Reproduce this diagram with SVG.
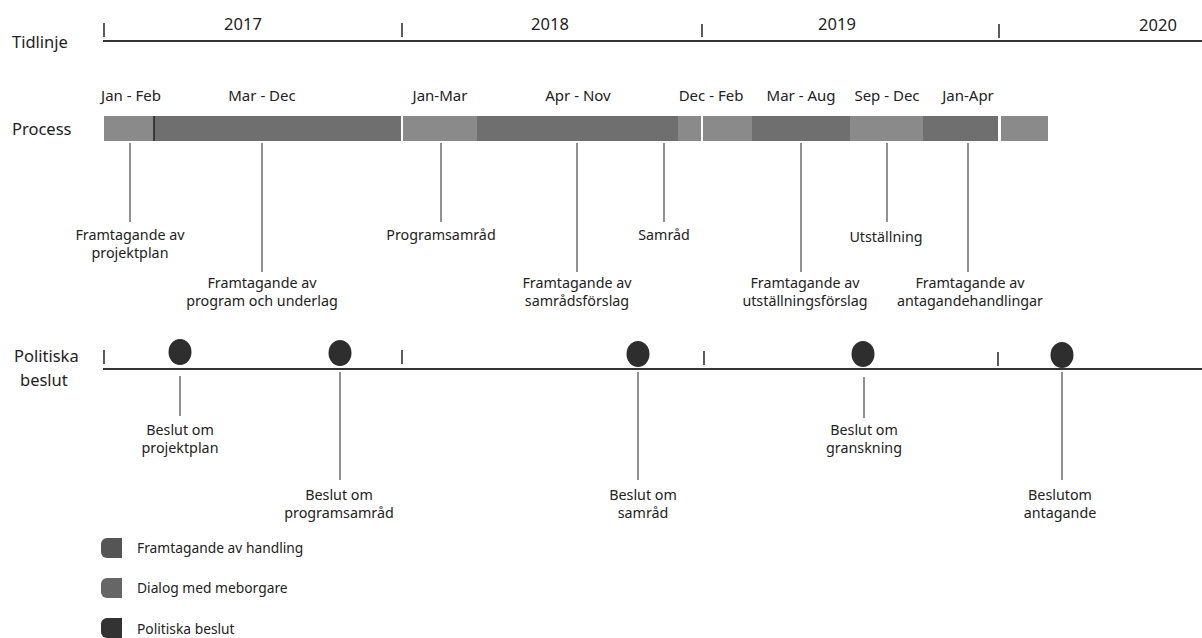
<svg xmlns="http://www.w3.org/2000/svg" width="1202" height="638" viewBox="0 0 1202 638">
<style>
text{font-family:"Noto Sans","Open Sans",sans-serif;fill:#222;}
.lab{font-size:16.5px;}
.yr{font-size:16.5px;text-anchor:middle;}
.mo{font-size:15px;text-anchor:middle;}
.t{font-size:14.3px;text-anchor:middle;}
.lg{font-size:13.8px;}
.axis{stroke:#333;stroke-width:2;fill:none;}
.tick{stroke:#333;stroke-width:1.6;}
.con{stroke:#555;stroke-width:1.3;fill:none;}
.fa{fill:#6f6f6f;}
.di{fill:#8a8a8a;}
.dot{fill:#2e2e2e;}
</style>
<rect width="1202" height="638" fill="#fff"/>
<g id="tidlinje">
<text class="lab" x="12" y="48">Tidlinje</text>
<line class="axis" x1="103" y1="41" x2="1202" y2="41"/>
<line class="tick" x1="104" y1="23" x2="104" y2="37"/>
<line class="tick" x1="402" y1="23" x2="402" y2="37"/>
<line class="tick" x1="702" y1="24" x2="702" y2="37"/>
<line class="tick" x1="999" y1="24" x2="999" y2="38"/>
<text class="yr" x="243" y="30">2017</text>
<text class="yr" x="550" y="30">2018</text>
<text class="yr" x="837" y="30">2019</text>
<text class="yr" x="1158" y="31">2020</text>
</g>
<g id="process">
<text class="lab" x="12" y="135">Process</text>
<text class="mo" x="131" y="101">Jan - Feb</text>
<text class="mo" x="262" y="101">Mar - Dec</text>
<text class="mo" x="440" y="101">Jan-Mar</text>
<text class="mo" x="578" y="101">Apr - Nov</text>
<text class="mo" x="711" y="101">Dec - Feb</text>
<text class="mo" x="801" y="101">Mar - Aug</text>
<text class="mo" x="887" y="101">Sep - Dec</text>
<text class="mo" x="968" y="101">Jan-Apr</text>
<rect class="di" x="104" y="116" width="50" height="25"/>
<rect class="fa" x="154" y="116" width="247" height="25"/>
<line x1="154" y1="116" x2="154" y2="141" stroke="#222" stroke-width="1.5"/>
<rect class="di" x="403" y="116" width="74" height="25"/>
<rect class="fa" x="477" y="116" width="201" height="25"/>
<rect class="di" x="678" y="116" width="23" height="25"/>
<rect class="di" x="703" y="116" width="49" height="25"/>
<rect class="fa" x="752" y="116" width="98" height="25"/>
<rect class="di" x="850" y="116" width="73" height="25"/>
<rect class="fa" x="923" y="116" width="75" height="25"/>
<rect class="di" x="1001" y="116" width="47" height="25"/>
</g>
<g id="politiska">
<text class="lab" x="14" y="362">Politiska</text>
<text class="lab" x="20" y="386">beslut</text>
<line class="axis" x1="103" y1="369" x2="1202" y2="369"/>
<line class="tick" x1="104" y1="350" x2="104" y2="364"/>
<line class="tick" x1="402" y1="350" x2="402" y2="364"/>
<line class="tick" x1="704" y1="351" x2="704" y2="365"/>
<line class="tick" x1="998" y1="352" x2="998" y2="366"/>
<ellipse class="dot" cx="180" cy="352" rx="11.5" ry="13"/>
<ellipse class="dot" cx="340" cy="353" rx="11.5" ry="13"/>
<ellipse class="dot" cx="638" cy="354" rx="11.5" ry="13"/>
<ellipse class="dot" cx="863" cy="354" rx="11.5" ry="13"/>
<ellipse class="dot" cx="1062" cy="355" rx="11.5" ry="13"/>
</g>
<g id="connectors">
<line class="con" x1="130" y1="143" x2="130" y2="222"/>
<line class="con" x1="262" y1="143" x2="262" y2="272"/>
<line class="con" x1="441" y1="143" x2="441" y2="222"/>
<line class="con" x1="577" y1="143" x2="577" y2="272"/>
<line class="con" x1="664" y1="143" x2="664" y2="222"/>
<line class="con" x1="801" y1="143" x2="801" y2="272"/>
<line class="con" x1="887" y1="143" x2="887" y2="222"/>
<line class="con" x1="968" y1="143" x2="968" y2="272"/>
<line class="con" x1="180" y1="376" x2="180" y2="416"/>
<line class="con" x1="340" y1="372" x2="340" y2="480"/>
<line class="con" x1="638" y1="372" x2="638" y2="480"/>
<line class="con" x1="864" y1="377" x2="864" y2="418"/>
<line class="con" x1="1062" y1="372" x2="1062" y2="480"/>
</g>
<g id="process-labels">
<text class="t" x="130" y="240">Framtagande av</text>
<text class="t" x="130" y="258">projektplan</text>
<text class="t" x="262" y="288">Framtagande av</text>
<text class="t" x="262" y="306">program och underlag</text>
<text class="t" x="441" y="240">Programsamråd</text>
<text class="t" x="577" y="288">Framtagande av</text>
<text class="t" x="577" y="306">samrådsförslag</text>
<text class="t" x="664" y="240">Samråd</text>
<text class="t" x="805" y="288">Framtagande av</text>
<text class="t" x="805" y="306">utställningsförslag</text>
<text class="t" x="886" y="242">Utställning</text>
<text class="t" x="970" y="288">Framtagande av</text>
<text class="t" x="970" y="306">antagandehandlingar</text>
</g>
<g id="beslut-labels">
<text class="t" x="180" y="435">Beslut om</text>
<text class="t" x="180" y="453">projektplan</text>
<text class="t" x="339" y="500">Beslut om</text>
<text class="t" x="339" y="518">programsamråd</text>
<text class="t" x="643" y="500">Beslut om</text>
<text class="t" x="643" y="518">samråd</text>
<text class="t" x="864" y="435">Beslut om</text>
<text class="t" x="864" y="453">granskning</text>
<text class="t" x="1060" y="500">Beslutom</text>
<text class="t" x="1060" y="518">antagande</text>
</g>
<g id="legend">
<path d="M107 538H122V558H107A6 6 0 0 1 101 552V544A6 6 0 0 1 107 538Z" fill="#555"/>
<text class="lg" x="137" y="553">Framtagande av handling</text>
<path d="M107 578H122V598H107A6 6 0 0 1 101 592V584A6 6 0 0 1 107 578Z" fill="#666"/>
<text class="lg" x="137" y="593">Dialog med meborgare</text>
<path d="M107 618H122V638H107A6 6 0 0 1 101 632V624A6 6 0 0 1 107 618Z" fill="#333"/>
<text class="lg" x="137" y="634">Politiska beslut</text>
</g>
</svg>
